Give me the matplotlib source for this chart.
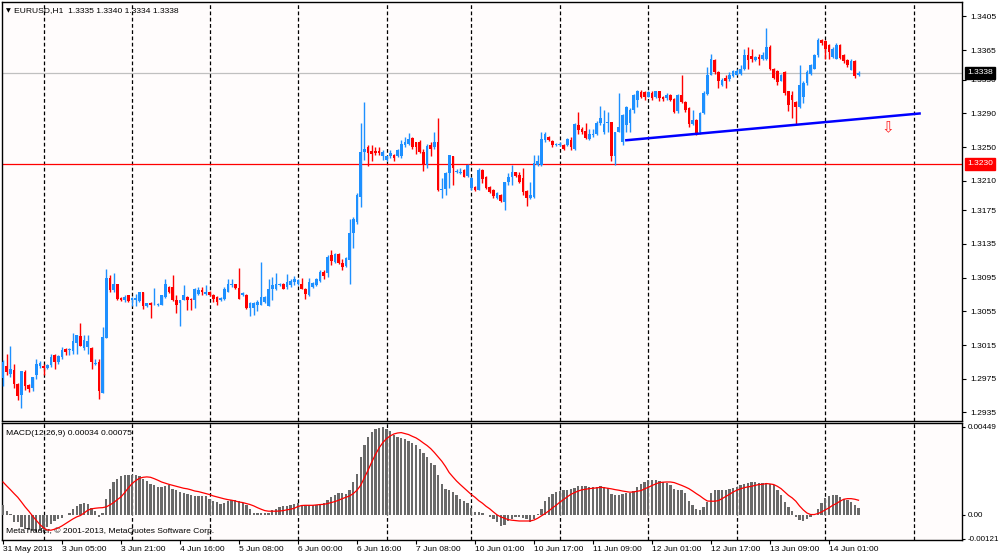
#!/usr/bin/env python3
"""EURUSD H1 chart with MACD, MetaTrader style."""

import matplotlib
matplotlib.use("Agg")
import matplotlib.pyplot as plt
import matplotlib.transforms as mtransforms
import numpy as np

# ---- candles (hourly) ----
OPEN = [
    1.2976, 1.2990, 1.2981, 1.2985, 1.2969, 1.2956, 1.2983, 1.2968, 1.2964, 1.2979,
    1.2990, 1.2990, 1.2988, 1.2991, 1.3003, 1.2995, 1.3001, 1.3010, 1.3009, 1.3008,
    1.3018, 1.3026, 1.3011, 1.3013, 1.3012, 1.2993, 1.2995, 1.2958, 1.3023, 1.3095,
    1.3080, 1.3087, 1.3071, 1.3068, 1.3074, 1.3069, 1.3069, 1.3067, 1.3078, 1.3061,
    1.3065, 1.3062, 1.3062, 1.3063, 1.3072, 1.3084, 1.3084, 1.3068, 1.3065, 1.3069,
    1.3072, 1.3070, 1.3068, 1.3076, 1.3080, 1.3076, 1.3078, 1.3075, 1.3072, 1.3068,
    1.3070, 1.3078, 1.3086, 1.3087, 1.3083, 1.3074, 1.3075, 1.3059, 1.3059, 1.3062,
    1.3063, 1.3066, 1.3061, 1.3082, 1.3082, 1.3086, 1.3088, 1.3084, 1.3086, 1.3090,
    1.3088, 1.3087, 1.3082, 1.3074, 1.3084, 1.3086, 1.3091, 1.3102, 1.3100, 1.3122,
    1.3114, 1.3123, 1.3113, 1.3109, 1.3116, 1.3148, 1.3161, 1.3191, 1.3244, 1.3250,
    1.3245, 1.3245, 1.3245, 1.3239, 1.3235, 1.3239, 1.3241, 1.3239, 1.3239, 1.3252,
    1.3254, 1.3261, 1.3256, 1.3256, 1.3244, 1.3229, 1.3252, 1.3250, 1.3256, 1.3199,
    1.3200, 1.3219, 1.3239, 1.3220, 1.3219, 1.3223, 1.3216, 1.3202, 1.3203, 1.3199,
    1.3223, 1.3215, 1.3203, 1.3199, 1.3189, 1.3193, 1.3185, 1.3209, 1.3215, 1.3220,
    1.3217, 1.3213, 1.3198, 1.3189, 1.3191, 1.3229, 1.3229, 1.3258, 1.3262, 1.3257,
    1.3252, 1.3252, 1.3253, 1.3252, 1.3258, 1.3248, 1.3276, 1.3271, 1.3269, 1.3260,
    1.3264, 1.3266, 1.3278, 1.3268, 1.3279, 1.3280, 1.3239, 1.3268, 1.3256, 1.3276,
    1.3278, 1.3294, 1.3306, 1.3315, 1.3315, 1.3310, 1.3314, 1.3310, 1.3316, 1.3310,
    1.3308, 1.3312, 1.3307, 1.3293, 1.3312, 1.3304, 1.3296, 1.3277, 1.3282, 1.3268,
    1.3290, 1.3313, 1.3336, 1.3353, 1.3339, 1.3324, 1.3332, 1.3331, 1.3334, 1.3336,
    1.3337, 1.3343, 1.3359, 1.3358, 1.3353, 1.3357, 1.3355, 1.3355, 1.3369, 1.3343,
    1.3340, 1.3329, 1.3339, 1.3316, 1.3312, 1.3304, 1.3298, 1.3310, 1.3326, 1.3337,
    1.3343, 1.3359, 1.3377, 1.3376, 1.3371, 1.3357, 1.3355, 1.3371, 1.3359, 1.3353,
    1.3341, 1.3352, 1.3335,
]
HIGH = [
    1.2997, 1.3004, 1.3014, 1.2993, 1.2970, 1.2984, 1.2985, 1.2969, 1.2977, 1.2998,
    1.2996, 1.2993, 1.2993, 1.3004, 1.3005, 1.3003, 1.3013, 1.3011, 1.3011, 1.3029,
    1.3027, 1.3041, 1.3027, 1.3027, 1.3013, 1.2999, 1.2999, 1.3036, 1.3105, 1.3098,
    1.3100, 1.3088, 1.3072, 1.3075, 1.3075, 1.3072, 1.3076, 1.3078, 1.3078, 1.3065,
    1.3066, 1.3083, 1.3065, 1.3075, 1.3093, 1.3085, 1.3098, 1.3075, 1.3069, 1.3086,
    1.3073, 1.3071, 1.3083, 1.3084, 1.3084, 1.3086, 1.3079, 1.3076, 1.3073, 1.3072,
    1.3084, 1.3093, 1.3094, 1.3088, 1.3106, 1.3078, 1.3076, 1.3066, 1.3066, 1.3068,
    1.3114, 1.3073, 1.3094, 1.3096, 1.3100, 1.3089, 1.3089, 1.3099, 1.3094, 1.3097,
    1.3094, 1.3095, 1.3083, 1.3095, 1.3090, 1.3095, 1.3104, 1.3104, 1.3122, 1.3128,
    1.3124, 1.3124, 1.3117, 1.3119, 1.3165, 1.3167, 1.3195, 1.3278, 1.3304, 1.3252,
    1.3252, 1.3250, 1.3250, 1.3246, 1.3240, 1.3246, 1.3242, 1.3248, 1.3258, 1.3262,
    1.3267, 1.3262, 1.3256, 1.3258, 1.3248, 1.3254, 1.3256, 1.3268, 1.3284, 1.3213,
    1.3220, 1.3241, 1.3240, 1.3224, 1.3225, 1.3224, 1.3230, 1.3215, 1.3204, 1.3225,
    1.3224, 1.3216, 1.3204, 1.3200, 1.3197, 1.3194, 1.3209, 1.3219, 1.3229, 1.3221,
    1.3221, 1.3225, 1.3199, 1.3209, 1.3241, 1.3241, 1.3268, 1.3268, 1.3263, 1.3258,
    1.3255, 1.3256, 1.3254, 1.3261, 1.3262, 1.3278, 1.3292, 1.3274, 1.3278, 1.3272,
    1.3272, 1.3281, 1.3299, 1.3294, 1.3292, 1.3280, 1.3268, 1.3314, 1.3289, 1.3299,
    1.3296, 1.3313, 1.3318, 1.3318, 1.3316, 1.3316, 1.3316, 1.3317, 1.3317, 1.3311,
    1.3314, 1.3313, 1.3308, 1.3313, 1.3335, 1.3305, 1.3297, 1.3294, 1.3283, 1.3292,
    1.3316, 1.3345, 1.3360, 1.3355, 1.3340, 1.3332, 1.3335, 1.3339, 1.3341, 1.3343,
    1.3347, 1.3367, 1.3369, 1.3367, 1.3358, 1.3360, 1.3363, 1.3391, 1.3371, 1.3344,
    1.3342, 1.3337, 1.3340, 1.3317, 1.3316, 1.3305, 1.3347, 1.3328, 1.3341, 1.3349,
    1.3361, 1.3379, 1.3378, 1.3377, 1.3372, 1.3369, 1.3373, 1.3372, 1.3360, 1.3354,
    1.3355, 1.3353, 1.3340,
]
LOW = [
    1.2966, 1.2979, 1.2977, 1.2964, 1.2950, 1.2940, 1.2962, 1.2959, 1.2961, 1.2975,
    1.2988, 1.2979, 1.2987, 1.2989, 1.2987, 1.2993, 1.2999, 1.3003, 1.3003, 1.3005,
    1.3005, 1.3014, 1.3009, 1.3005, 1.2987, 1.2991, 1.2951, 1.2958, 1.3023, 1.3078,
    1.3078, 1.3068, 1.3067, 1.3066, 1.3066, 1.3061, 1.3061, 1.3066, 1.3058, 1.3060,
    1.3047, 1.3062, 1.3061, 1.3062, 1.3071, 1.3077, 1.3067, 1.3053, 1.3038, 1.3068,
    1.3057, 1.3057, 1.3059, 1.3074, 1.3074, 1.3074, 1.3073, 1.3066, 1.3063, 1.3067,
    1.3068, 1.3078, 1.3084, 1.3082, 1.3070, 1.3073, 1.3058, 1.3049, 1.3051, 1.3055,
    1.3062, 1.3065, 1.3061, 1.3068, 1.3080, 1.3085, 1.3081, 1.3082, 1.3084, 1.3086,
    1.3086, 1.3081, 1.3070, 1.3073, 1.3083, 1.3085, 1.3090, 1.3094, 1.3096, 1.3110,
    1.3112, 1.3111, 1.3104, 1.3108, 1.3088, 1.3130, 1.3159, 1.3179, 1.3235, 1.3227,
    1.3233, 1.3241, 1.3241, 1.3235, 1.3234, 1.3237, 1.3234, 1.3238, 1.3237, 1.3250,
    1.3252, 1.3248, 1.3242, 1.3243, 1.3222, 1.3225, 1.3239, 1.3248, 1.3198, 1.3189,
    1.3193, 1.3201, 1.3205, 1.3219, 1.3218, 1.3214, 1.3215, 1.3199, 1.3198, 1.3199,
    1.3207, 1.3200, 1.3195, 1.3190, 1.3188, 1.3185, 1.3175, 1.3205, 1.3205, 1.3215,
    1.3207, 1.3193, 1.3180, 1.3188, 1.3190, 1.3227, 1.3227, 1.3256, 1.3257, 1.3250,
    1.3251, 1.3251, 1.3247, 1.3251, 1.3246, 1.3247, 1.3266, 1.3265, 1.3260, 1.3258,
    1.3262, 1.3264, 1.3276, 1.3266, 1.3268, 1.3233, 1.3229, 1.3268, 1.3253, 1.3268,
    1.3268, 1.3291, 1.3298, 1.3308, 1.3306, 1.3309, 1.3306, 1.3308, 1.3305, 1.3305,
    1.3306, 1.3305, 1.3290, 1.3291, 1.3302, 1.3292, 1.3274, 1.3276, 1.3264, 1.3266,
    1.3289, 1.3312, 1.3335, 1.3337, 1.3320, 1.3322, 1.3320, 1.3328, 1.3333, 1.3335,
    1.3335, 1.3341, 1.3343, 1.3351, 1.3352, 1.3348, 1.3353, 1.3353, 1.3341, 1.3331,
    1.3324, 1.3328, 1.3312, 1.3293, 1.3284, 1.3277, 1.3296, 1.3302, 1.3324, 1.3335,
    1.3343, 1.3357, 1.3371, 1.3355, 1.3355, 1.3356, 1.3354, 1.3354, 1.3350, 1.3345,
    1.3341, 1.3332, 1.3334,
]
CLOSE = [
    1.2995, 1.2983, 1.2987, 1.2969, 1.2954, 1.2984, 1.2966, 1.2963, 1.2977, 1.2993,
    1.2994, 1.2988, 1.2991, 1.3001, 1.2995, 1.3002, 1.3009, 1.3007, 1.3010, 1.3020,
    1.3027, 1.3014, 1.3021, 1.3020, 1.2995, 1.2994, 1.2960, 1.3025, 1.3095, 1.3080,
    1.3087, 1.3070, 1.3068, 1.3072, 1.3067, 1.3071, 1.3071, 1.3078, 1.3061, 1.3065,
    1.3063, 1.3063, 1.3064, 1.3074, 1.3087, 1.3078, 1.3068, 1.3062, 1.3069, 1.3075,
    1.3068, 1.3068, 1.3082, 1.3080, 1.3078, 1.3078, 1.3074, 1.3070, 1.3066, 1.3071,
    1.3082, 1.3087, 1.3087, 1.3083, 1.3070, 1.3077, 1.3059, 1.3065, 1.3065, 1.3066,
    1.3072, 1.3072, 1.3082, 1.3086, 1.3088, 1.3088, 1.3082, 1.3090, 1.3091, 1.3093,
    1.3092, 1.3082, 1.3076, 1.3090, 1.3089, 1.3094, 1.3102, 1.3097, 1.3120, 1.3115,
    1.3123, 1.3112, 1.3108, 1.3118, 1.3148, 1.3165, 1.3193, 1.3244, 1.3248, 1.3243,
    1.3242, 1.3243, 1.3243, 1.3244, 1.3239, 1.3243, 1.3237, 1.3247, 1.3254, 1.3256,
    1.3260, 1.3250, 1.3250, 1.3244, 1.3229, 1.3251, 1.3248, 1.3256, 1.3199, 1.3200,
    1.3219, 1.3241, 1.3225, 1.3222, 1.3221, 1.3215, 1.3229, 1.3213, 1.3199, 1.3223,
    1.3212, 1.3201, 1.3197, 1.3192, 1.3195, 1.3186, 1.3208, 1.3215, 1.3221, 1.3216,
    1.3209, 1.3197, 1.3189, 1.3193, 1.3231, 1.3233, 1.3260, 1.3266, 1.3258, 1.3252,
    1.3254, 1.3254, 1.3248, 1.3260, 1.3250, 1.3277, 1.3270, 1.3268, 1.3261, 1.3266,
    1.3266, 1.3278, 1.3284, 1.3277, 1.3280, 1.3239, 1.3268, 1.3274, 1.3288, 1.3298,
    1.3294, 1.3312, 1.3316, 1.3310, 1.3310, 1.3315, 1.3308, 1.3316, 1.3308, 1.3307,
    1.3312, 1.3306, 1.3292, 1.3312, 1.3304, 1.3294, 1.3277, 1.3282, 1.3266, 1.3290,
    1.3314, 1.3335, 1.3355, 1.3339, 1.3328, 1.3330, 1.3328, 1.3336, 1.3340, 1.3340,
    1.3343, 1.3359, 1.3353, 1.3355, 1.3357, 1.3354, 1.3359, 1.3369, 1.3343, 1.3332,
    1.3327, 1.3335, 1.3314, 1.3300, 1.3306, 1.3298, 1.3324, 1.3326, 1.3339, 1.3347,
    1.3359, 1.3377, 1.3373, 1.3366, 1.3363, 1.3367, 1.3371, 1.3356, 1.3352, 1.3347,
    1.3352, 1.3334, 1.3338,
]

# ---- MACD(12,26,9), values in units of 1e-5 ----
MACD_MAIN = [
    53, 19, 5, -34, -36, -60, -70, -78, -83, -87,
    -83, -73, -61, -44, -32, -22, -15, -2, 12, 29,
    46, 54, 63, 58, 36, 19, -12, 12, 83, 134,
    168, 185, 197, 204, 206, 206, 202, 197, 182, 172,
    160, 151, 143, 143, 146, 151, 134, 126, 117, 114,
    109, 100, 97, 97, 97, 94, 83, 73, 66, 58,
    63, 70, 75, 77, 71, 63, 49, 29, 12, 9,
    9, 9, 12, 24, 32, 41, 46, 46, 49, 56,
    60, 53, 49, 49, 49, 49, 58, 63, 75, 92,
    104, 112, 112, 109, 126, 168, 211, 296, 355, 398,
    423, 437, 444, 449, 440, 427, 410, 398, 390, 386,
    379, 369, 355, 338, 318, 294, 267, 257, 202, 160,
    134, 129, 117, 104, 83, 73, 63, 36, 15, 15,
    9, -2, -9, -19, -36, -56, -49, -32, -19, -12,
    -9, -15, -22, -36, -22, 5, 32, 73, 92, 109,
    117, 122, 126, 126, 131, 138, 145, 148, 146, 143,
    141, 143, 146, 143, 138, 107, 100, 104, 109, 111,
    114, 121, 143, 158, 168, 177, 180, 180, 175, 168,
    163, 151, 134, 129, 126, 114, 73, 53, 29, 24,
    41, 66, 112, 126, 126, 126, 128, 131, 138, 143,
    151, 158, 163, 167, 167, 163, 163, 162, 158, 151,
    126, 100, 66, 41, 19, -10, -27, -32, -22, -10,
    7, 29, 63, 87, 97, 104, 100, 92, 80, 75,
    66, 49, 34,
]
MACD_SIGNAL = [
    168, 148, 129, 109, 90, 66, 41, 19, -5, -27,
    -49, -66, -77, -78, -73, -66, -56, -44, -32, -20,
    -10, -3, 10, 24, 31, 34, 36, 37, 41, 51,
    63, 78, 92, 114, 138, 160, 175, 187, 192, 194,
    192, 185, 177, 168, 162, 156, 151, 146, 141, 136,
    133, 128, 122, 119, 114, 109, 104, 97, 92, 87,
    82, 78, 75, 71, 66, 63, 58, 53, 46, 37,
    29, 22, 19, 19, 19, 20, 22, 26, 29, 34,
    43, 48, 49, 49, 49, 51, 53, 54, 58, 63,
    68, 75, 83, 90, 97, 109, 126, 151, 189, 228,
    270, 308, 342, 369, 389, 403, 413, 418, 420, 415,
    410, 401, 393, 381, 367, 354, 338, 318, 296, 274,
    247, 216, 194, 173, 155, 138, 121, 104, 90, 73,
    60, 44, 31, 15, 0, -10, -17, -24, -27, -29,
    -31, -31, -31, -31, -26, -17, -5, 7, 20, 36,
    49, 65, 78, 92, 105, 114, 122, 128, 131, 134,
    136, 138, 141, 139, 136, 133, 129, 126, 122, 119,
    116, 117, 121, 124, 133, 141, 150, 158, 165, 167,
    168, 168, 165, 158, 151, 143, 134, 122, 109, 97,
    83, 71, 70, 70, 73, 83, 94, 105, 117, 126,
    133, 139, 143, 146, 151, 155, 156, 160, 158, 155,
    146, 134, 117, 100, 87, 70, 46, 26, 10, 2,
    2, 7, 15, 26, 36, 49, 58, 70, 80, 83,
    83, 80, 75,
]

PRICE_TICKS = [1.3405, 1.3365, 1.3330, 1.3290, 1.3250, 1.3210, 1.3175,
               1.3135, 1.3095, 1.3055, 1.3015, 1.2975, 1.2935]
MACD_TICKS = [0.00449, 0.0, -0.00121]
MACD_TICK_LABELS = ["0.00449", "0.00", "-0.00121"]

TIME_TICKS = [0, 16, 32, 48, 64, 80, 96, 112, 128, 144, 160, 176, 192, 208, 224]
TIME_LABELS = ["31 May 2013", "3 Jun 05:00", "3 Jun 21:00", "4 Jun 16:00",
               "5 Jun 08:00", "6 Jun 00:00", "6 Jun 16:00", "7 Jun 08:00",
               "10 Jun 01:00", "10 Jun 17:00", "11 Jun 09:00", "12 Jun 01:00",
               "12 Jun 17:00", "13 Jun 09:00", "14 Jun 01:00"]
DAY_BREAKS = [11, 35, 56, 80, 104, 127, 151, 175, 199, 223, 247]

BID = 1.3338
ALERT = 1.3230
TREND_X = [168.7, 248.9]
TREND_Y = [1.3258, 1.3290]
ARROW_X, ARROW_Y = 240, 1.3273

BULL = "#1e90ff"
BEAR = "#ff0000"
BG = "#fffcfc"
FONT = "Liberation Sans"
FS = 6.1

W, H = 1000, 557
BAR_PX = 3.6875
X0_PX = 3.0


def px_to_x(px):
    return (px - X0_PX) / BAR_PX


def main():
    o = np.array(OPEN)
    h = np.array(HIGH)
    lo = np.array(LOW)
    c = np.array(CLOSE)
    n = len(c)
    assert len(o) == len(h) == len(lo) == n
    macd = np.array(MACD_MAIN) * 1e-5
    sig = np.array(MACD_SIGNAL) * 1e-5
    assert len(macd) == len(sig) == n
    idx = np.arange(n)

    plt.rcParams["font.family"] = [FONT, "DejaVu Sans"]
    fig = plt.figure(figsize=(W / 100, H / 100), dpi=100, facecolor="white")
    ax = fig.add_axes([2 / W, 136 / H, 960 / W, 419 / H], facecolor=BG)
    axm = fig.add_axes([2 / W, 17 / H, 960 / W, 117 / H], facecolor=BG)

    xlim = (px_to_x(2), px_to_x(962))
    for a in (ax, axm):
        a.set_xlim(*xlim)
        for s in a.spines.values():
            s.set_color("black")
            s.set_linewidth(1.0)
        for d in DAY_BREAKS:
            a.axvline(d, color="black", lw=0.9, ls=(0, (3, 2)), zorder=1)

    # ---- price panel ----
    ax.set_ylim(1.29249, 1.34222)
    ax.axhline(BID, color="#c0c0c0", lw=0.9, zorder=2)
    ax.axhline(ALERT, color="#ff0000", lw=0.9, zorder=2)

    colors = np.where(c >= o, BULL, BEAR)
    ax.vlines(idx, lo, h, colors=colors, lw=1.0, zorder=3)
    body_lo = np.minimum(o, c)
    body_h = np.maximum(np.abs(c - o), 0.00009)
    ax.bar(idx, body_h, bottom=body_lo, width=0.72, color=colors,
           linewidth=0, zorder=4)

    ax.plot(TREND_X, TREND_Y, color="#0000ff", lw=1.8, zorder=5,
            solid_capstyle="butt")
    ax.text(ARROW_X, ARROW_Y, "\u21e9", color="#ff2020", fontsize=11,
            family="DejaVu Sans", ha="center", va="center", zorder=6)

    ax.yaxis.tick_right()
    ax.set_yticks(PRICE_TICKS)
    ax.set_yticklabels([f"{v:.4f}" for v in PRICE_TICKS])
    ax.tick_params(axis="y", direction="out", length=3, width=0.8, pad=3,
                   labelsize=FS, colors="black")
    ax.set_xticks([])

    yx = mtransforms.blended_transform_factory(ax.transAxes, ax.transData)
    ax.text(1.0055, BID, f"{BID:.4f}", transform=yx, ha="left", va="center",
            color="white", fontsize=FS, zorder=10, clip_on=False,
            bbox=dict(boxstyle="square,pad=0.25", fc="black", ec="black"))
    ax.text(1.0055, ALERT, f"{ALERT:.4f}", transform=yx, ha="left", va="center",
            color="white", fontsize=FS, zorder=10, clip_on=False,
            bbox=dict(boxstyle="square,pad=0.25", fc="#ff0000", ec="#ff0000"))

    ax.text(0.004, 0.979, "\u25bc", transform=ax.transAxes, fontsize=4.5,
            family="DejaVu Sans", ha="left", va="center")
    ax.text(0.013, 0.979,
            f"EURUSD,H1  {o[-1]:.4f} {h[-1]:.4f} {lo[-1]:.4f} {c[-1]:.4f}",
            transform=ax.transAxes, fontsize=FS, ha="left", va="center")

    # ---- MACD panel ----
    axm.set_ylim(-0.00128, 0.00469)
    axm.bar(idx, macd, width=0.62, color="#696969", linewidth=0, zorder=3)
    axm.plot(idx, sig, color="#ff0000", lw=0.9, zorder=4)

    axm.yaxis.tick_right()
    axm.set_yticks(MACD_TICKS)
    axm.set_yticklabels(MACD_TICK_LABELS)
    axm.tick_params(axis="y", direction="out", length=2.5, width=0.8, pad=1.5,
                    labelsize=5.8, colors="black")

    axm.set_xticks(TIME_TICKS)
    axm.set_xticklabels(TIME_LABELS, ha="left")
    axm.tick_params(axis="x", direction="out", length=3, width=0.8, pad=1.5,
                    labelsize=FS, colors="black")

    axm.text(0.004, 0.91, f"MACD(12,26,9) {macd[-1]:.5f} {sig[-1]:.5f}",
             transform=axm.transAxes, fontsize=FS, ha="left", va="center")
    axm.text(0.004, 0.075, "MetaTrader, \u00a9 2001-2013, MetaQuotes Software Corp.",
             transform=axm.transAxes, fontsize=FS, ha="left", va="center")

    fig.savefig("out.png", dpi=100, facecolor="white")
    plt.close(fig)


if __name__ == "__main__":
    main()
